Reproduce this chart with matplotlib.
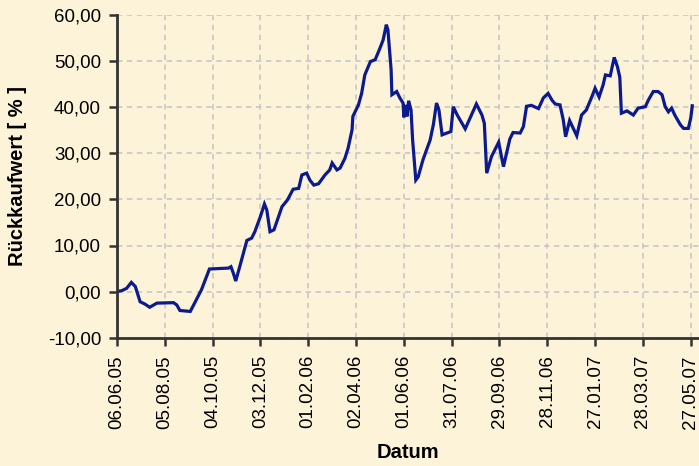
import pandas as pd
import numpy as np
import matplotlib
matplotlib.use('Agg')
import matplotlib.pyplot as plt
import matplotlib.dates as mdates

# Rückkaufwert data (days after 06.06.2005, value in %)
start = pd.Timestamp('2005-06-06')
days = [0, 6, 12, 18, 23, 29, 35, 41, 50, 71, 75, 79, 92, 106, 116, 140, 143, 146,
        149, 154, 163, 169, 173, 180, 185, 188, 192, 197, 207, 214, 221, 228, 232,
        238, 242, 247, 253, 261, 267, 270, 276, 280, 286, 290, 295, 296, 303, 307,
        311, 318, 324, 330, 334, 338, 340, 344, 345, 351, 355, 359, 360, 362, 364,
        366, 369, 371, 375, 378, 384, 393, 397, 401, 404, 408, 414, 419, 422, 427,
        437, 451, 458, 461, 464, 470, 479, 485, 493, 497, 506, 510, 514, 520, 529,
        535, 541, 546, 550, 556, 560, 563, 568, 577, 583, 589, 596, 600, 605, 610,
        613, 619, 624, 628, 631, 633, 640, 648, 654, 663, 667, 673, 679, 684, 688,
        692, 696, 700, 707, 711, 717, 720, 722]
values = [0.0, 0.2, 0.7, 2.0, 1.1, -2.2, -2.7, -3.4, -2.5, -2.4, -2.9, -4.1, -4.3,
          0.4, 4.9, 5.1, 5.4, 4.0, 2.3, 5.4, 11.1, 11.6, 13.0, 16.3, 19.0, 17.7,
          13.0, 13.4, 18.4, 19.9, 22.2, 22.4, 25.3, 25.7, 24.2, 23.1, 23.4, 25.3,
          26.4, 27.9, 26.4, 26.8, 28.9, 31.1, 35.1, 38.0, 40.5, 43.0, 47.0, 49.9,
          50.3, 52.8, 54.6, 57.9, 56.8, 48.1, 42.7, 43.4, 42.0, 40.9, 37.8, 40.5,
          38.0, 41.4, 39.4, 32.9, 24.2, 24.9, 28.6, 32.9, 36.2, 40.9, 39.4, 34.0,
          34.4, 34.7, 40.1, 38.3, 35.3, 40.7, 38.3, 36.5, 25.7, 29.3, 32.4, 27.1,
          33.1, 34.5, 34.4, 35.8, 40.2, 40.4, 39.7, 42.0, 43.0, 41.5, 40.7, 40.5,
          37.3, 33.6, 37.1, 33.8, 38.3, 39.4, 42.3, 44.1, 42.2, 44.8, 47.0, 46.8,
          50.8, 48.8, 46.5, 38.7, 39.2, 38.3, 39.8, 40.1, 41.6, 43.4, 43.4, 42.7,
          40.1, 39.0, 39.8, 38.3, 36.2, 35.4, 35.4, 37.6, 40.3]
tick_days = [0, 60, 120, 180, 240, 300, 360, 420, 480, 540, 600, 660, 720]
y_ticks = [-10, 0, 10, 20, 30, 40, 50, 60]

dates = start + pd.to_timedelta(days, unit='D')
tick_dates = start + pd.to_timedelta(tick_days, unit='D')

bg = '#FDF3D8'
plt.rcParams['font.family'] = ['Liberation Sans', 'DejaVu Sans']

fig = plt.figure(figsize=(6.99, 4.66), dpi=100, facecolor=bg)
W, H = 699, 466
ax = fig.add_axes([117 / W, 1 - 337.7 / H, (W - 117) / W, (337.7 - 15) / H])
ax.set_facecolor(bg)

ax.plot(dates, values, color='#0B1A8F', linewidth=2.3, solid_joinstyle='miter')

ax.set_ylim(-10, 60)
ax.set_xlim(start, start + pd.Timedelta(days=730.4))
ax.set_yticks(y_ticks)
ax.set_yticklabels([f'{v:.2f}'.replace('.', ',') for v in y_ticks])
ax.set_xticks(tick_dates)
ax.xaxis.set_major_formatter(mdates.DateFormatter('%d.%m.%y'))
ax.tick_params(axis='x', rotation=90, labelsize=13.5, length=5.5, width=1.8,
               pad=7, colors='#333333', labelcolor='black')
ax.tick_params(axis='y', labelsize=13.5, length=5.5, width=1.8, pad=6,
               colors='#333333', labelcolor='black')

ax.grid(True, color='#C3C3C8', linestyle=(0, (3.5, 3)), linewidth=1.1)
ax.set_axisbelow(True)
for s in ['top', 'right']:
    ax.spines[s].set_visible(False)
for s in ['left', 'bottom']:
    ax.spines[s].set_linewidth(2)
    ax.spines[s].set_color('#333333')

fig.text(408 / W, 1 - 452 / H, 'Datum', ha='center', va='center',
         fontsize=14.5, fontweight='bold')
fig.text(18 / W, 1 - 176 / H, 'Rückkaufwert [ % ]', ha='center', va='center',
         rotation=90, fontsize=14.5, fontweight='bold')

plt.savefig('out.png', dpi=100, facecolor=bg)
